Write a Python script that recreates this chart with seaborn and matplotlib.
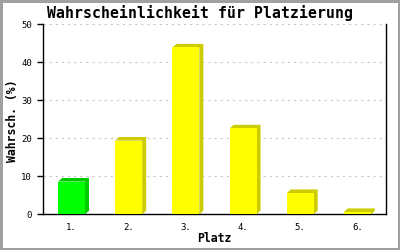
import matplotlib
matplotlib.use("Agg")
import matplotlib.pyplot as plt
import seaborn as sns
import pandas as pd
from matplotlib.patches import Polygon

# ---- data ----
places = ["1.", "2.", "3.", "4.", "5.", "6."]
probabilities = [8.6, 19.4, 43.9, 22.6, 5.6, 0.6]
front_colors = ["#00ff00", "#ffff00", "#ffff00", "#ffff00", "#ffff00", "#ffff00"]
side_colors = ["#00cc00", "#cccc00", "#cccc00", "#cccc00", "#cccc00", "#cccc00"]
yticks = [0, 10, 20, 30, 40, 50]
title = "Wahrscheinlichkeit für Platzierung"
xlabel = "Platz"
ylabel = "Wahrsch. (%)"

df = pd.DataFrame({"Platz": places, "Wert": probabilities})

sns.set_style("white")
plt.rcParams["font.family"] = ["DejaVu Sans Mono"]
plt.rcParams["text.color"] = "black"
plt.rcParams["xtick.color"] = "black"
plt.rcParams["ytick.color"] = "black"
plt.rcParams["axes.labelcolor"] = "black"

W, H = 400, 250
fig = plt.figure(figsize=(4.0, 2.5), dpi=100)
fig.patch.set_facecolor("white")
fig.patch.set_edgecolor("#a0a0a0")
fig.patch.set_linewidth(2.5)
ax = fig.add_axes([43 / W, 1 - 214.3 / H, (386 - 43) / W, (214.3 - 24.3) / H])

sns.barplot(data=df, x="Platz", y="Wert", hue="Platz", palette=front_colors,
            legend=False, width=0.47, ax=ax, saturation=1, zorder=3,
            linewidth=0)

ax.set_xlim(-0.5, len(places) - 0.5)
ax.set_ylim(0, 50)
ax.set_yticks(yticks)
ax.set_yticklabels([str(t) for t in yticks])

# 3D depth faces derived from bar geometry
fig.canvas.draw()
inv = ax.transData.inverted()
p0 = inv.transform((0, 0))
p1 = inv.transform((4.0, 3.6))
dx, dy = p1[0] - p0[0], p1[1] - p0[1]
for patch, col in zip(ax.patches, side_colors):
    x0 = patch.get_x()
    x1 = x0 + patch.get_width()
    y0 = patch.get_y()
    y1 = y0 + patch.get_height()
    pts = [(x0, y1), (x0 + dx, y1 + dy), (x1 + dx, y1 + dy),
           (x1 + dx, y0 + dy), (x1, y0), (x1, y1)]
    ax.add_patch(Polygon(pts, closed=True, facecolor=col, edgecolor="none",
                         zorder=2.5))

# grid
for t in yticks[1:]:
    ax.axhline(t, color="#c8c8c8", linewidth=0.8, linestyle=(0, (2.0, 3.5)),
               zorder=1)

for s in ["left", "bottom", "right"]:
    ax.spines[s].set_visible(True)
    ax.spines[s].set_color("black")
    ax.spines[s].set_linewidth(1.0)
ax.spines["top"].set_visible(False)

ax.tick_params(axis="y", direction="out", length=4, width=1.0, pad=4,
               labelsize=6.5, left=True, colors="black")
ax.tick_params(axis="x", length=0, pad=6, labelsize=6.5, colors="black")

ax.set_xlabel("")
ax.set_ylabel("")
fig.text(214.5 / W, 1 - 239 / H, xlabel, ha="center", va="center",
         fontsize=8.3, fontweight="bold", color="black")
fig.text(12.5 / W, 1 - 121 / H, ylabel, ha="center", va="center",
         rotation=90, fontsize=8.3, fontweight="bold", color="black")
fig.text(0.5, 1 - 13 / H, title, ha="center", va="center",
         fontsize=10.7, fontweight="bold", color="black")

fig.savefig("out.png", dpi=100, facecolor=fig.get_facecolor(),
            edgecolor=fig.get_edgecolor())
